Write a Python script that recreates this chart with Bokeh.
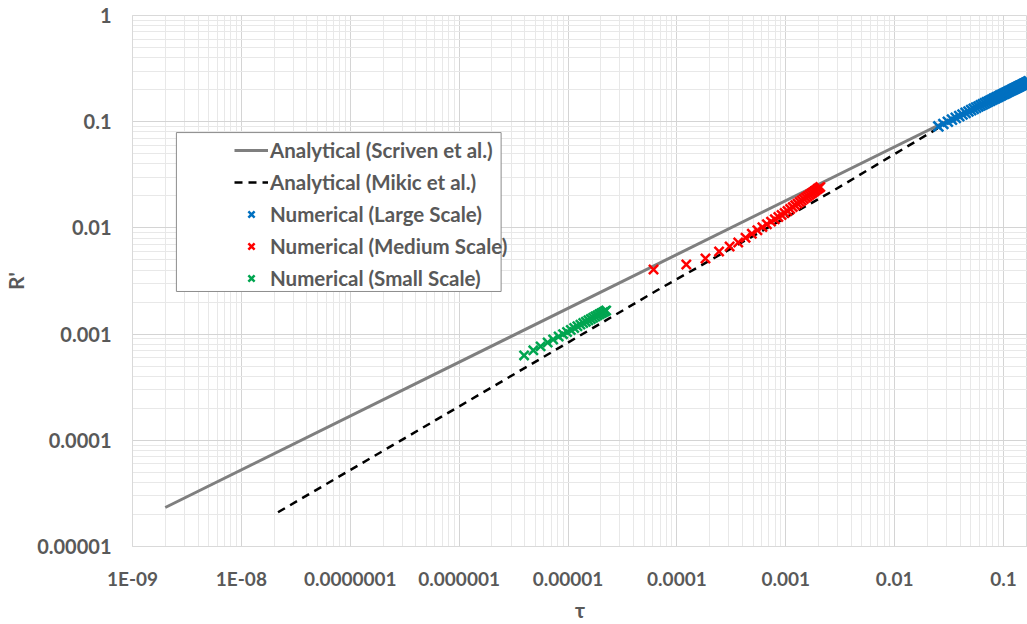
from bokeh.plotting import figure
from bokeh.models import (Range1d, FixedTicker, CustomJSTickFormatter, Legend,
                          LegendItem, BoxAnnotation)
from bokeh.embed import file_html
from bokeh.resources import INLINE

# ---------------- data ----------------
x_ticks = [1e-9, 1e-8, 1e-7, 1e-6, 1e-5, 1e-4, 1e-3, 1e-2, 1e-1]
x_tick_labels = ["1E-09", "1E-08", "0.0000001", "0.000001", "0.00001",
                 "0.0001", "0.001", "0.01", "0.1"]
y_ticks = [1e-5, 1e-4, 1e-3, 1e-2, 1e-1, 1.0]
y_tick_labels = ["0.00001", "0.0001", "0.001", "0.01", "0.1", "1"]

scriven_tau = [2e-9, 0.2]
scriven_r = [2.33e-5, 0.265]

mikic_tau = [2.17e-8, 2.26e-6, 6.65e-5, 2.75e-3, 0.0247]
mikic_r = [2.1e-5, 3.4e-4, 2.6e-3, 0.0225, 0.0863]

large_tau = [0.0252, 0.0280, 0.0308, 0.0336, 0.0364, 0.0392, 0.0420, 0.0448,
             0.0476, 0.0504, 0.0532, 0.0560, 0.0588, 0.0616, 0.0644, 0.0672,
             0.0700, 0.0728, 0.0756, 0.0784, 0.0812, 0.0840, 0.0868, 0.0896,
             0.0924, 0.0952, 0.0980, 0.1008, 0.1036, 0.1064, 0.1092, 0.1120,
             0.1148, 0.1176, 0.1204, 0.1232, 0.1260, 0.1288, 0.1316, 0.1344,
             0.1372, 0.1400, 0.1428, 0.1456, 0.1484, 0.1512, 0.1540, 0.1568,
             0.1596, 0.1624, 0.1652, 0.1680, 0.1708]
large_r = [0.0902, 0.0952, 0.0999, 0.1045, 0.1088, 0.1130, 0.1170, 0.1210,
           0.1247, 0.1285, 0.1320, 0.1356, 0.1390, 0.1423, 0.1456, 0.1487,
           0.1519, 0.1549, 0.1579, 0.1609, 0.1638, 0.1667, 0.1695, 0.1723,
           0.1750, 0.1777, 0.1803, 0.1829, 0.1855, 0.1880, 0.1905, 0.1930,
           0.1955, 0.1979, 0.2002, 0.2026, 0.2050, 0.2073, 0.2096, 0.2118,
           0.2140, 0.2163, 0.2185, 0.2206, 0.2228, 0.2249, 0.2271, 0.2291,
           0.2312, 0.2333, 0.2353, 0.2374, 0.2394]

medium_tau = [0.61e-4, 1.22e-4, 1.83e-4, 2.44e-4, 3.05e-4, 3.66e-4, 4.27e-4,
              4.88e-4, 5.49e-4, 6.10e-4, 6.71e-4, 7.32e-4, 7.93e-4, 8.54e-4,
              9.15e-4, 9.76e-4, 10.37e-4, 10.98e-4, 11.59e-4, 12.20e-4,
              12.81e-4, 13.42e-4, 14.03e-4, 14.64e-4, 15.25e-4, 15.86e-4,
              16.47e-4, 17.08e-4, 17.69e-4, 18.30e-4, 18.91e-4, 19.52e-4,
              20.13e-4, 20.74e-4]
medium_r = [4.06e-3, 4.52e-3, 5.15e-3, 6.00e-3, 6.68e-3, 7.30e-3, 8.07e-3,
            8.80e-3, 9.50e-3, 1.017e-2, 1.083e-2, 1.146e-2, 1.207e-2,
            1.266e-2, 1.324e-2, 1.381e-2, 1.445e-2, 1.509e-2, 1.570e-2,
            1.633e-2, 1.693e-2, 1.753e-2, 1.813e-2, 1.872e-2, 1.930e-2,
            1.988e-2, 2.045e-2, 2.101e-2, 2.157e-2, 2.213e-2, 2.268e-2,
            2.322e-2, 2.376e-2, 2.430e-2]

small_tau = [3.95e-6, 4.8e-6, 5.6e-6, 6.5e-6, 7.3e-6, 8.2e-6, 9.0e-6, 9.8e-6,
             10.6e-6, 11.4e-6, 12.2e-6, 13.0e-6, 13.8e-6, 14.6e-6, 15.4e-6,
             16.2e-6, 17.0e-6, 17.8e-6, 18.6e-6, 19.4e-6, 20.2e-6, 21.0e-6,
             21.8e-6, 22.4e-6]
small_r = [6.30e-4, 7.03e-4, 7.66e-4, 8.33e-4, 8.88e-4, 9.48e-4, 9.99e-4,
           1.048e-3, 1.095e-3, 1.141e-3, 1.185e-3, 1.228e-3, 1.270e-3,
           1.310e-3, 1.350e-3, 1.388e-3, 1.426e-3, 1.464e-3, 1.501e-3,
           1.536e-3, 1.571e-3, 1.606e-3, 1.640e-3, 1.665e-3]

series_labels = ["Analytical (Scriven et al.)", "Analytical (Mikic et al.)",
                 "Numerical (Large Scale)", "Numerical (Medium Scale)",
                 "Numerical (Small Scale)"]

# ---------------- styling ----------------
FONT = "Lato"
TXT = "#595959"
GRID_MAJOR = "#d4d4d4"
GRID_MINOR = "#e8e8e8"

p = figure(width=1027, height=624, x_axis_type="log", y_axis_type="log",
           x_range=Range1d(1e-9, 0.166), y_range=Range1d(1e-5, 1.0),
           output_backend="svg", toolbar_location=None,
           min_border_left=131, min_border_right=0, min_border_top=15,
           min_border_bottom=78, background_fill_color="white",
           border_fill_color="white", outline_line_color="#d9d9d9")

x_minor = [t * m for t in x_ticks for m in range(2, 10)]
y_minor = [t * m for t in y_ticks[:-1] for m in range(2, 10)]
p.xaxis.ticker = FixedTicker(ticks=x_ticks, minor_ticks=x_minor)
p.yaxis.ticker = FixedTicker(ticks=y_ticks, minor_ticks=y_minor)

fmt_code = """
const lg = Math.log10(tick);
for (let i = 0; i < tvals.length; i++) {
  if (Math.abs(Math.log10(tvals[i]) - lg) < 1e-6) return tlabels[i];
}
return "";
"""
p.xaxis.formatter = CustomJSTickFormatter(args=dict(tvals=x_ticks, tlabels=x_tick_labels), code=fmt_code)
p.yaxis.formatter = CustomJSTickFormatter(args=dict(tvals=y_ticks, tlabels=y_tick_labels), code=fmt_code)

for ax in (p.xaxis[0], p.yaxis[0]):
    ax.axis_line_color = "#d9d9d9"
    ax.major_tick_line_color = None
    ax.minor_tick_line_color = None
    ax.major_tick_out = 0
    ax.major_tick_in = 0
    ax.minor_tick_out = 0
    ax.minor_tick_in = 0
    ax.major_label_text_font = FONT
    ax.major_label_text_font_style = "bold"
    ax.major_label_text_color = TXT
    ax.axis_label_text_font = FONT
    ax.axis_label_text_font_style = "bold"
    ax.axis_label_text_color = TXT
    ax.axis_label_text_font_size = "21px"

p.xaxis.major_label_text_font_size = "19px"
p.yaxis.major_label_text_font_size = "20px"
p.xaxis.major_label_standoff = 20
p.yaxis.major_label_standoff = 21
p.xaxis.axis_label = "τ"
p.yaxis.axis_label = "R'"
p.xaxis.axis_label_standoff = 4
p.yaxis.axis_label_standoff = 6

for g in (p.xgrid[0], p.ygrid[0]):
    g.grid_line_color = GRID_MAJOR
    g.minor_grid_line_color = GRID_MINOR

# ---------------- series ----------------
r_s = p.line(scriven_tau, scriven_r, line_color="#7f7f7f", line_width=3)
r_m = p.line(mikic_tau, mikic_r, line_color="black", line_width=2.5, line_dash="8 6")
r_b = p.scatter(large_tau, large_r, marker="x", size=14, line_color="#0070c0", line_width=2.5)
r_r = p.scatter(medium_tau, medium_r, marker="x", size=13, line_color="#ff0000", line_width=2.5)
r_g = p.scatter(small_tau, small_r, marker="x", size=13, line_color="#00a550", line_width=2.5)
r_rl = p.line([], [], line_color="#f5a8a8", line_width=1)

# ---------------- legend ----------------
box = BoxAnnotation(left=2.53e-9, right=2.43e-6, bottom=2.52e-3, top=0.079,
                    fill_color="white", fill_alpha=1.0,
                    line_color="#8c8c8c", line_width=1, line_alpha=1.0)
p.add_layout(box)

legend = Legend(items=[
    LegendItem(label=series_labels[0], renderers=[r_s]),
    LegendItem(label=series_labels[1], renderers=[r_m]),
    LegendItem(label=series_labels[2], renderers=[r_b]),
    LegendItem(label=series_labels[3], renderers=[r_rl, r_r]),
    LegendItem(label=series_labels[4], renderers=[r_g]),
], location=(102, 256), padding=0, spacing=8, glyph_width=34, glyph_height=22,
   label_standoff=2, label_height=22, label_text_font=FONT,
   label_text_font_style="bold", label_text_font_size="20.5px",
   label_text_color=TXT, border_line_color=None, background_fill_alpha=0)
p.add_layout(legend)

open("out.html", "w").write(file_html(p, INLINE))
